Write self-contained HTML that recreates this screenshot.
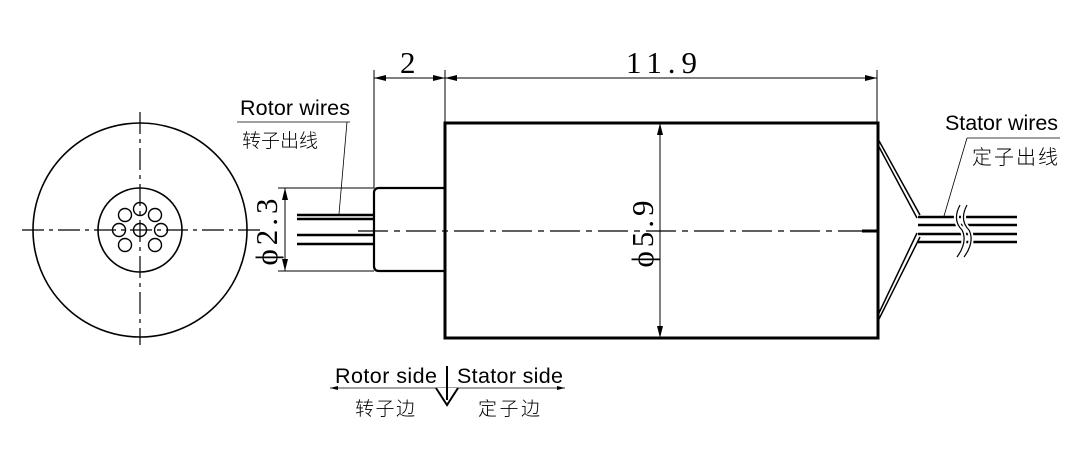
<!DOCTYPE html>
<html><head><meta charset="utf-8"><style>body{margin:0;background:#fff}svg{display:block}</style></head><body>
<svg width="1082" height="449" viewBox="0 0 1082 449" xmlns="http://www.w3.org/2000/svg">
<defs>
<marker id="a" viewBox="0 0 12 6" refX="12" refY="3" markerWidth="12" markerHeight="6" markerUnits="userSpaceOnUse" orient="auto-start-reverse"><path d="M0,0 L12,3 L0,6z" fill="#000"/></marker>
<marker id="s" viewBox="0 0 8 4" refX="8" refY="2" markerWidth="8" markerHeight="4" markerUnits="userSpaceOnUse" orient="auto-start-reverse"><path d="M0,0 L8,2 L0,4z" fill="#000"/></marker>
</defs>
<g stroke="#000" fill="none">
<line x1="22" y1="230" x2="262" y2="230" stroke-width="1.2" stroke-dasharray="22,5,4,5"/>
<line x1="140" y1="112" x2="140" y2="345" stroke-width="1.2" stroke-dasharray="22,5,4,5"/>
<line x1="358" y1="231" x2="878" y2="231" stroke-width="1.2" stroke-dasharray="30,6,6,6"/>
<line x1="862" y1="231" x2="878" y2="231" stroke-width="3"/>
<circle cx="140" cy="230" r="107" stroke-width="1.6"/>
<circle cx="140" cy="230" r="42" stroke-width="1.6"/>
<g stroke-width="1.4">
<circle cx="140" cy="230" r="6.5"/>
<circle cx="140" cy="209" r="6.5"/>
<circle cx="155" cy="215" r="6.5"/>
<circle cx="161" cy="230" r="6.5"/>
<circle cx="155" cy="245" r="6.5"/>
<circle cx="125" cy="245" r="6.5"/>
<circle cx="119" cy="230" r="6.5"/>
<circle cx="125" cy="215" r="6.5"/>
</g>
<rect x="445" y="123" width="433" height="215" stroke-width="3"/>
<path d="M445,188 H379 Q374,188 374,193 V266 Q374,271 379,271 H445" stroke-width="2.2"/>
<g stroke-width="2.4">
<line x1="297" y1="215" x2="374" y2="215"/>
<line x1="297" y1="219" x2="374" y2="219"/>
<line x1="297" y1="235" x2="374" y2="235"/>
<line x1="297" y1="244" x2="374" y2="244"/>
</g>
<line x1="278" y1="188" x2="374" y2="188" stroke-width="1"/>
<line x1="278" y1="271" x2="374" y2="271" stroke-width="1"/>
<line x1="285" y1="188" x2="285" y2="271" stroke-width="1" marker-start="url(#a)" marker-end="url(#a)"/>
<line x1="374" y1="70" x2="374" y2="188" stroke-width="1"/>
<line x1="445" y1="70" x2="445" y2="123" stroke-width="1"/>
<line x1="877" y1="70" x2="877" y2="123" stroke-width="1"/>
<line x1="374" y1="78" x2="445" y2="78" stroke-width="1" marker-start="url(#a)" marker-end="url(#a)"/>
<line x1="445" y1="78" x2="877" y2="78" stroke-width="1" marker-start="url(#a)" marker-end="url(#a)"/>
<line x1="660" y1="123" x2="660" y2="338" stroke-width="1" marker-start="url(#a)" marker-end="url(#a)"/>
<g stroke-width="1.5">
<line x1="878" y1="139" x2="920" y2="215"/>
<line x1="878" y1="145" x2="917" y2="218"/>
<line x1="878" y1="321" x2="920" y2="237"/>
<line x1="878" y1="315" x2="917" y2="233"/>
</g>
<g stroke-width="2.4">
<line x1="918" y1="217" x2="1017" y2="217"/>
<line x1="918" y1="225" x2="1017" y2="225"/>
<line x1="918" y1="234" x2="1017" y2="234"/>
<line x1="918" y1="242" x2="1017" y2="242"/>
</g>
<path d="M960,205 Q952,220 962,230 Q968,242 957,257 M967,205 Q959,220 969,230 Q975,242 964,257" stroke="#fff" stroke-width="5"/>
<path d="M960,205 Q952,220 962,230 Q968,242 957,257 M967,205 Q959,220 969,230 Q975,242 964,257" stroke-width="1.2"/>
<line x1="237" y1="122" x2="350" y2="122" stroke-width="0.8"/>
<line x1="347" y1="122" x2="339" y2="214" stroke-width="0.8"/>
<line x1="967" y1="138" x2="1060" y2="138" stroke-width="0.8"/>
<line x1="967" y1="138" x2="944" y2="216" stroke-width="0.8"/>
<line x1="330" y1="388" x2="565" y2="388" stroke-width="0.8" marker-start="url(#s)" marker-end="url(#s)"/>
<path d="M436,388 L447,405 L458,388" stroke-width="2" fill="#fff"/>
<line x1="447" y1="366" x2="447" y2="400" stroke-width="2"/>
</g>
<g font-family="Liberation Sans, Noto Sans CJK SC, sans-serif" fill="#000">
<text x="240" y="115" font-size="21.5" textLength="110">Rotor wires</text>
<text x="242" y="147" font-size="19" textLength="76" font-family="Noto Sans CJK SC, sans-serif" font-weight="300">转子出线</text>
<text x="945" y="130" font-size="21.5" textLength="113">Stator wires</text>
<text x="972" y="164" font-size="20" textLength="86" font-family="Noto Sans CJK SC, sans-serif" font-weight="300">定子出线</text>
<text x="335" y="383" font-size="21.5" textLength="102">Rotor side</text>
<text x="457" y="383" font-size="21.5" textLength="106">Stator side</text>
<text x="355" y="415" font-size="19" textLength="60" font-family="Noto Sans CJK SC, sans-serif" font-weight="300">转子边</text>
<text x="478" y="415" font-size="19" textLength="62" font-family="Noto Sans CJK SC, sans-serif" font-weight="300">定子边</text>
</g>
<g font-family="Liberation Serif, serif" fill="#000" font-size="31">
<text x="400" y="73">2</text>
<text x="626" y="73" textLength="71">11.9</text>
<text transform="translate(277,230) rotate(-90)" text-anchor="middle" letter-spacing="4">ϕ2.3</text>
<text transform="translate(653,232) rotate(-90)" text-anchor="middle" letter-spacing="4">ϕ5.9</text>
</g>
</svg>
</body></html>
